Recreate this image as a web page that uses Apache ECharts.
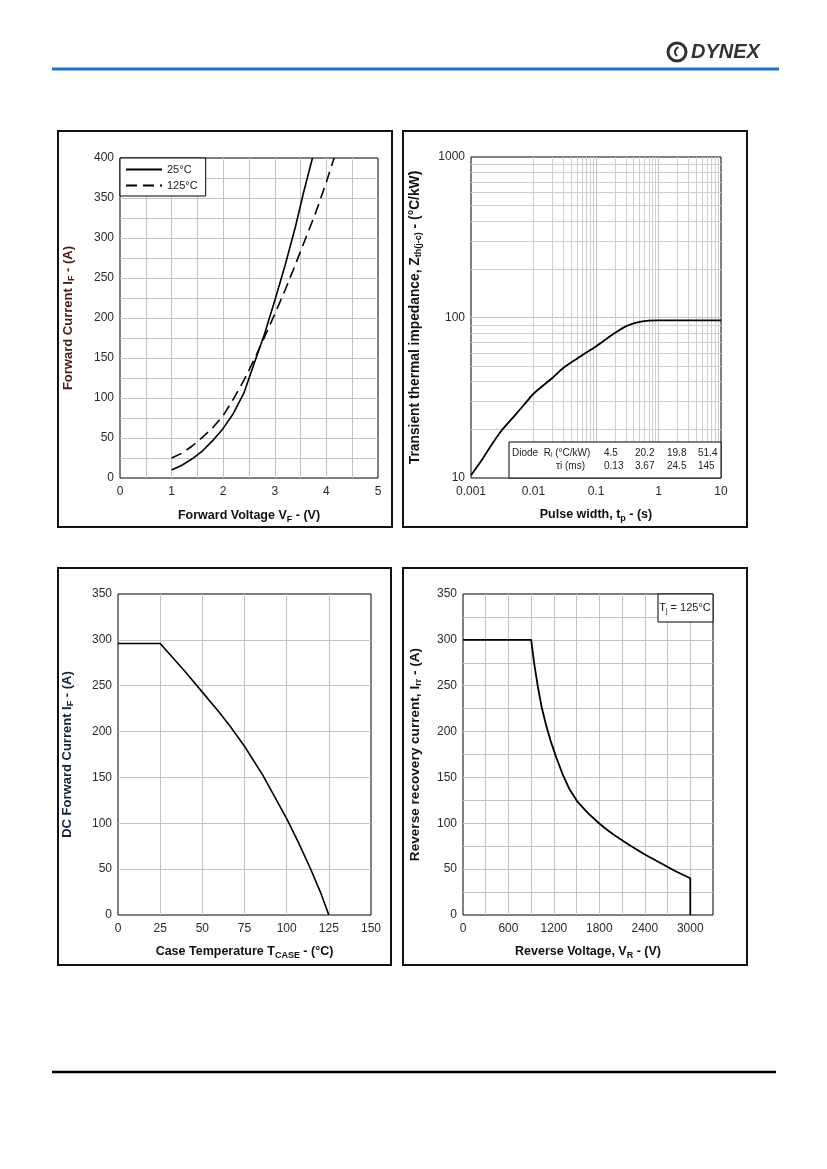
<!DOCTYPE html>
<html>
<head>
<meta charset="utf-8">
<script src="https://cdn.jsdelivr.net/npm/echarts@6/dist/echarts.min.js"></script>
<style>
  html, body { margin: 0; padding: 0; background: #fff; }
  #chart { width: 827px; height: 1169px; }
</style>
</head>
<body>
<div id="chart"></div>
<script>
// forward characteristic
var vf25 = [1.0, 1.2, 1.4, 1.6, 1.8, 2.0, 2.2, 2.4, 2.6, 2.8, 3.0, 3.2, 3.4, 3.55, 3.73];
var if25 = [10, 16, 24, 34, 47, 62, 81, 106, 143, 180, 222, 266, 314, 355, 400];
var vf125 = [1.0, 1.2, 1.4, 1.6, 1.8, 2.0, 2.2, 2.4, 2.6, 2.8, 3.0, 3.2, 3.4, 3.6, 3.8, 4.0, 4.15];
var if125 = [25, 31, 40, 51, 63, 78, 99, 122, 148, 176, 205, 235, 267, 300, 333, 370, 400];

// transient thermal impedance
var tp = [0.001, 0.0015, 0.002, 0.003, 0.005, 0.007, 0.01, 0.02, 0.03, 0.05, 0.07, 0.1, 0.15, 0.2, 0.3, 0.4, 0.5, 0.7, 1, 2, 5, 10];
var zth = [10.4, 13, 15.5, 19.5, 24.5, 28.5, 33.5, 42, 48.5, 55.5, 60.5, 66, 74, 80, 88, 92, 94, 95.5, 95.9, 95.9, 95.9, 95.9];
var riRow = ['4.5', '20.2', '19.8', '51.4'];
var tauRow = ['0.13', '3.67', '24.5', '145'];

// DC current derating
var tcase = [0, 25, 40, 50, 60, 66, 75, 86, 100, 107, 114, 120, 125];
var idc = [296, 296, 265, 243, 221, 207, 184, 152, 105, 79, 51, 25, 0];

// reverse recovery current
var vr = [0, 900, 940, 990, 1040, 1100, 1160, 1230, 1317, 1400, 1507, 1650, 1795, 1900, 2000, 2200, 2400, 2600, 2800, 3000, 3000];
var irr = [300, 300, 274, 248, 226, 206, 189, 172, 153, 138, 124, 111, 100, 93, 87, 76, 66, 57, 48, 40, 0];

var FONT = 'Liberation Sans, Arial, sans-serif';
var GRID = '#c4c4c4';

function zip(a, b) { return a.map(function (v, i) { return [v, b[i]]; }); }

function richName(color, size) {
  size = size || 12.5;
  return {
    color: color,
    rich: {
      b: { fontFamily: FONT, fontWeight: 'bold', fontSize: size, color: color, lineHeight: 16 },
      s: { fontFamily: FONT, fontWeight: 'bold', fontSize: Math.round(size * 0.68), color: color, verticalAlign: 'bottom', lineHeight: 8 }
    }
  };
}

function valAxis(opt) {
  var a = {
    type: 'value',
    gridIndex: opt.grid,
    min: opt.min, max: opt.max, interval: opt.interval,
    name: opt.name, nameLocation: 'middle', nameGap: opt.gap,
    nameTextStyle: richName(opt.color || '#111', opt.size),
    axisLine: { show: false },
    axisTick: { show: false },
    axisLabel: { fontFamily: FONT, fontSize: 12, color: '#2a2a2a', margin: opt.margin || 6 },
    splitLine: { show: true, showMinLine: false, showMaxLine: false, lineStyle: { color: GRID, width: 1 } }
  };
  if (opt.minor) {
    a.minorTick = { show: false, splitNumber: 2 };
    a.minorSplitLine = { show: true, lineStyle: { color: GRID, width: 1 } };
  }
  if (opt.formatter) a.axisLabel.formatter = opt.formatter;
  return a;
}

function logAxis(opt) {
  return {
    type: 'log', logBase: 10,
    gridIndex: opt.grid,
    min: opt.min, max: opt.max,
    name: opt.name, nameLocation: 'middle', nameGap: opt.gap,
    nameTextStyle: richName('#111', opt.size),
    axisLine: { show: false },
    axisTick: { show: false },
    axisLabel: {
      fontFamily: FONT, fontSize: 12, color: '#2a2a2a', margin: opt.margin || 6,
      formatter: function (v) { return String(parseFloat(v.toPrecision(6))); }
    },
    splitLine: { show: true, showMinLine: false, showMaxLine: false, lineStyle: { color: GRID, width: 1 } }
  };
}

// minor decade lines for the log chart
var minorX = [], minorY = [];
[-3, -2, -1, 0].forEach(function (d) {
  for (var k = 2; k <= 9; k++) minorX.push({ xAxis: +(k * Math.pow(10, d)).toPrecision(3) });
});
[1, 2].forEach(function (d) {
  for (var k = 2; k <= 9; k++) minorY.push({ yAxis: k * Math.pow(10, d) });
});

var gridBox = { show: true, borderColor: '#000', borderWidth: 1, backgroundColor: '#fff' };

var chart = echarts.init(document.getElementById('chart'), null, { renderer: 'canvas' });

var option = {
  animation: false,
  backgroundColor: '#fff',
  color: ['#000'],
  textStyle: { fontFamily: FONT },
  grid: [
    Object.assign({ left: 120, top: 158, width: 258, height: 320 }, gridBox),
    Object.assign({ left: 471, top: 157, width: 250, height: 321 }, gridBox),
    Object.assign({ left: 118, top: 594, width: 253, height: 321 }, gridBox),
    Object.assign({ left: 463, top: 594, width: 250, height: 321 }, gridBox)
  ],
  xAxis: [
    valAxis({ grid: 0, min: 0, max: 5, interval: 1, minor: true, gap: 30, margin: 8,
      name: '{b|Forward Voltage V}{s|F}{b| - (V)}' }),
    logAxis({ grid: 1, min: 0.001, max: 10, gap: 29, margin: 8,
      name: '{b|Pulse width, t}{s|p}{b| - (s)}' }),
    valAxis({ grid: 2, min: 0, max: 150, interval: 25, gap: 29, margin: 8,
      name: '{b|Case Temperature T}{s|CASE}{b| - (°C)}' }),
    valAxis({ grid: 3, min: 0, max: 3300, interval: 300, gap: 29, margin: 8,
      name: '{b|Reverse Voltage, V}{s|R}{b| - (V)}',
      formatter: function (v) { return v % 600 === 0 && v <= 3000 ? String(v) : ''; } })
  ],
  yAxis: [
    valAxis({ grid: 0, min: 0, max: 400, interval: 50, minor: true, gap: 44, color: '#4a1c14', size: 13,
      name: '{b|Forward Current I}{s|F}{b| - (A)}' }),
    logAxis({ grid: 1, min: 10, max: 1000, gap: 48, size: 13.8,
      name: '{b|Transient thermal impedance, Z}{s|th(j-c)}{b| - (°C/kW)}' }),
    valAxis({ grid: 2, min: 0, max: 350, interval: 50, gap: 43, color: '#14203c', size: 13,
      name: '{b|DC Forward Current I}{s|F}{b| - (A)}' }),
    valAxis({ grid: 3, min: 0, max: 350, interval: 50, minor: true, gap: 40, size: 13.6,
      name: '{b|Reverse recovery current, I}{s|rr}{b| - (A)}' })
  ],
  legend: {
    data: ['25°C', '125°C'],
    orient: 'vertical',
    left: 120, top: 158,
    backgroundColor: '#fff',
    borderColor: '#000', borderWidth: 1, borderRadius: 0,
    padding: [6, 8, 5, 5],
    itemWidth: 36, itemHeight: 10, itemGap: 5,
    itemStyle: { opacity: 0 },
    textStyle: { fontFamily: FONT, fontSize: 11, color: '#222' }
  },
  series: [
    { name: '25°C', type: 'line', xAxisIndex: 0, yAxisIndex: 0, symbol: 'none', z: 3,
      itemStyle: { color: '#000' },
      lineStyle: { color: '#000', width: 1.6 }, data: zip(vf25, if25) },
    { name: '125°C', type: 'line', xAxisIndex: 0, yAxisIndex: 0, symbol: 'none', z: 3,
      itemStyle: { color: '#000' },
      lineStyle: { color: '#000', width: 1.6, type: [11, 6] }, data: zip(vf125, if125) },
    { name: 'grid-minor', type: 'line', xAxisIndex: 1, yAxisIndex: 1, symbol: 'none', z: 1,
      lineStyle: { opacity: 0 }, data: [[0.001, 10]],
      markLine: { silent: true, z: 1, symbol: 'none', label: { show: false }, animation: false,
        lineStyle: { color: '#cfcfcf', width: 1, type: 'solid' },
        data: minorX.concat(minorY) } },
    { name: 'Zth', type: 'line', xAxisIndex: 1, yAxisIndex: 1, symbol: 'none', smooth: 0.2, z: 6,
      lineStyle: { color: '#000', width: 1.8 }, data: zip(tp, zth) },
    { name: 'IF dc', type: 'line', xAxisIndex: 2, yAxisIndex: 2, symbol: 'none', z: 3,
      lineStyle: { color: '#000', width: 1.6 }, data: zip(tcase, idc) },
    { name: 'Irr', type: 'line', xAxisIndex: 3, yAxisIndex: 3, symbol: 'none', z: 3,
      lineStyle: { color: '#000', width: 1.8 }, data: zip(vr, irr) }
  ],
  graphic: []
};

// page frame: header, panel boxes, footer
var g = option.graphic;
var panels = [[58, 131, 334, 396], [403, 131, 344, 396], [58, 568, 333, 397], [403, 568, 344, 397]];
panels.forEach(function (p) {
  g.push({ type: 'rect', shape: { x: p[0], y: p[1], width: p[2], height: p[3] },
    style: { fill: 'none', stroke: '#111', lineWidth: 2 }, z: 10 });
});
g.push({ type: 'line', shape: { x1: 52, y1: 69, x2: 779, y2: 69 }, style: { stroke: '#1f74c6', lineWidth: 3 } });
g.push({ type: 'line', shape: { x1: 52, y1: 1072, x2: 776, y2: 1072 }, style: { stroke: '#000', lineWidth: 2.5 } });

// logo
g.push({ type: 'circle', shape: { cx: 677, cy: 52, r: 9 }, style: { fill: 'none', stroke: '#333', lineWidth: 3 } });
g.push({ type: 'arc', shape: { cx: 680, cy: 52, r: 5, startAngle: 2.2, endAngle: 4.4 }, style: { fill: 'none', stroke: '#333', lineWidth: 2 } });
g.push({ type: 'text', x: 691, y: 52, style: { text: 'DYNEX', font: 'italic bold 20px ' + FONT, fill: '#333', verticalAlign: 'middle' } });

// thermal table
g.push({ type: 'rect', shape: { x: 509, y: 442, width: 212, height: 36 },
  style: { fill: '#fff', stroke: '#000', lineWidth: 1 }, z: 20 });
g.push({ type: 'text', x: 512, y: 453, z: 21,
  style: { text: '{t|Diode  R}{s|i}{t| (°C/kW)}', verticalAlign: 'middle',
    rich: { t: { fontFamily: FONT, fontSize: 10, fill: '#222', lineHeight: 12 },
            s: { fontFamily: FONT, fontSize: 7, fill: '#222', verticalAlign: 'bottom', lineHeight: 7 } } } });
g.push({ type: 'text', x: 585, y: 466, z: 21,
  style: { text: 'τi (ms)', font: '10px ' + FONT, fill: '#222', align: 'right', verticalAlign: 'middle' } });
var colX = [604, 635, 667, 698];
colX.forEach(function (x, i) {
  g.push({ type: 'text', x: x, y: 453, z: 21,
    style: { text: riRow[i], font: '10px ' + FONT, fill: '#222', verticalAlign: 'middle' } });
  g.push({ type: 'text', x: x, y: 466, z: 21,
    style: { text: tauRow[i], font: '10px ' + FONT, fill: '#222', verticalAlign: 'middle' } });
});

// Tj box
g.push({ type: 'rect', shape: { x: 658, y: 594, width: 55, height: 28 },
  style: { fill: '#fff', stroke: '#000', lineWidth: 1 }, z: 20 });
g.push({ type: 'text', x: 685, y: 608, z: 21,
  style: { text: '{t|T}{s|j}{t| = 125°C}', align: 'center', verticalAlign: 'middle',
    rich: { t: { fontFamily: FONT, fontSize: 11, fill: '#222', lineHeight: 13 },
            s: { fontFamily: FONT, fontSize: 7, fill: '#222', verticalAlign: 'bottom', lineHeight: 7 } } } });

chart.setOption(option);
</script>
</body>
</html>
